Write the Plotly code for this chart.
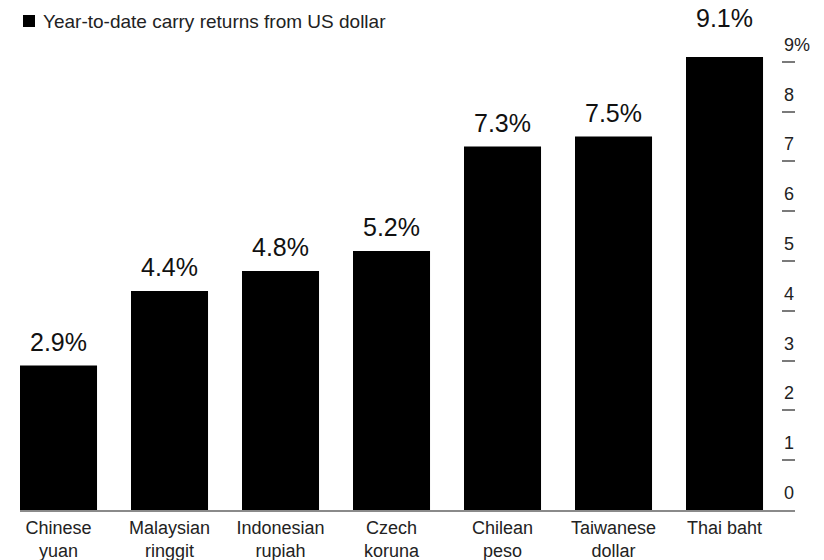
import plotly.graph_objects as go

# Year-to-date carry returns from the US dollar, by currency
currencies = ["Chinese<br>yuan", "Malaysian<br>ringgit", "Indonesian<br>rupiah",
              "Czech<br>koruna", "Chilean<br>peso", "Taiwanese<br>dollar", "Thai baht"]
returns_pct = [2.9, 4.4, 4.8, 5.2, 7.3, 7.5, 9.1]
value_labels = ["2.9%", "4.4%", "4.8%", "5.2%", "7.3%", "7.5%", "9.1%"]
y_ticks = [0, 1, 2, 3, 4, 5, 6, 7, 8, 9]
y_tick_labels = ["0", "1", "2", "3", "4", "5", "6", "7", "8", "9%"]
legend_text = "Year-to-date carry returns from US dollar"

FONT = "Liberation Sans, Arial, sans-serif"
W, H = 824, 560
ML, MR, MT, MB = 20, 29, 32, 50
plot_w = W - ML - MR
plot_h = H - MT - MB

fig = go.Figure()
fig.add_trace(go.Bar(
    x=list(range(len(currencies))),
    y=returns_pct,
    marker=dict(color="#000000", line=dict(width=0)),
    width=0.694,
    showlegend=False,
    hoverinfo="skip",
))

# value labels above each bar; the tallest one is lifted clear of the axis label
for i, (v, lab) in enumerate(zip(returns_pct, value_labels)):
    lift = 23 if v == max(returns_pct) else 8
    fig.add_annotation(x=i, y=v, xref="x", yref="y", text=lab, showarrow=False,
                       xanchor="center", yanchor="bottom", yshift=lift,
                       font=dict(family=FONT, size=25, color="#111111"))

# right-hand axis labels sit just above their tick dashes
for v, lab in zip(y_ticks, y_tick_labels):
    fig.add_annotation(x=1, y=v, xref="paper", yref="y", text=lab, showarrow=False,
                       xanchor="left", yanchor="bottom", xshift=-13, yshift=5,
                       font=dict(family=FONT, size=18, color="#222222"))

# legend swatch and text
fig.add_shape(type="rect", xref="paper", yref="paper",
              x0=(23 - ML) / plot_w, x1=(35 - ML) / plot_w,
              y0=(H - MB - 27) / plot_h, y1=(H - MB - 15) / plot_h,
              fillcolor="#000000", line=dict(width=0))
fig.add_annotation(x=(41 - ML) / plot_w, y=(H - MB - 21) / plot_h,
                   xref="paper", yref="paper", text=legend_text, showarrow=False,
                   xanchor="left", yanchor="middle",
                   font=dict(family=FONT, size=19, color="#222222"))

fig.update_layout(
    width=W, height=H,
    margin=dict(l=ML, r=MR, t=MT, b=MB, pad=0, autoexpand=False),
    paper_bgcolor="white", plot_bgcolor="white",
    showlegend=False,
    xaxis=dict(
        range=[-0.347, 6.635], automargin=False,
        tickmode="array", tickvals=list(range(len(currencies))), ticktext=currencies,
        tickfont=dict(family=FONT, size=18, color="#222222"),
        showgrid=False, zeroline=False, ticks="",
        showline=True, linecolor="#8a8a8a", linewidth=2,
    ),
    yaxis=dict(
        range=[0, 9.6], side="right", automargin=False,
        tickmode="array", tickvals=y_ticks[1:],
        showticklabels=False, showgrid=False, zeroline=False,
        ticks="inside", ticklen=13, tickwidth=2, tickcolor="#7a7a7a",
        showline=False,
    ),
)

fig.write_html("out.html")
